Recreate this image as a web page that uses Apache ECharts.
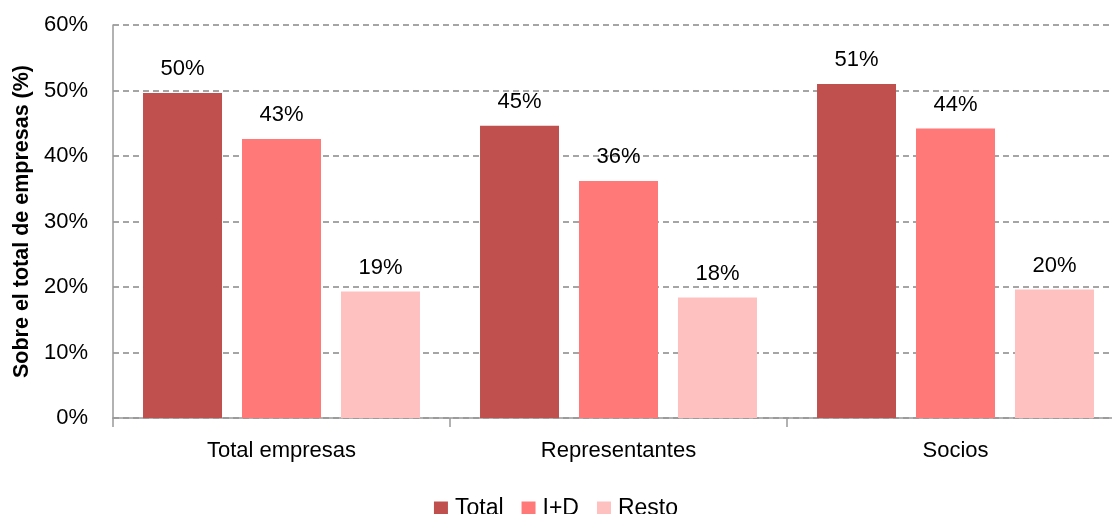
<!DOCTYPE html>
<html>
<head>
<meta charset="utf-8">
<script src="https://cdn.jsdelivr.net/npm/echarts@6/dist/echarts.min.js"></script>
<style>html,body{margin:0;padding:0;background:#fff}#c{width:1112px;height:514px}</style>
</head>
<body>
<div id="c"></div>
<script>
const categories = ['Total empresas', 'Representantes', 'Socios'];
const seriesNames = ['Total', 'I+D', 'Resto'];
const totalValues = [49.6, 44.6, 51.0];
const idValues = [42.6, 36.2, 44.2];
const restoValues = [19.3, 18.4, 19.6];
const yTicks = [0, 10, 20, 30, 40, 50, 60];
const colors = ['#C0504D', '#FF7979', '#FFC0C0'];

const font = '"Liberation Sans", Arial, sans-serif';
const chart = echarts.init(document.getElementById('c'));
const mk = (name, data, color) => ({
  name, type: 'bar', data, barWidth: 79, barGap: '25.3%',
  itemStyle: { color },
  label: { show: true, position: 'top', distance: 13, color: '#000', fontFamily: font, fontSize: 22,
    formatter: p => Math.round(p.value) + '%' }
});
chart.setOption({
  animation: false,
  color: colors,
  grid: { left: 113, top: 25, bottom: 96, right: -12, containLabel: false, outerBoundsMode: 'none' },
  legend: {
    bottom: -11, left: 'center', itemWidth: 14, itemHeight: 14, itemGap: 18,
    icon: 'rect',
    textStyle: { fontFamily: font, fontSize: 23, color: '#000', padding: [0, 0, 0, 2] },
    data: seriesNames
  },
  xAxis: {
    type: 'category', data: categories,
    axisLine: { lineStyle: { color: '#999', width: 1.5 } },
    axisTick: { show: true, length: 9, lineStyle: { color: '#999', width: 1.5 } },
    axisLabel: { fontFamily: font, fontSize: 22, color: '#000', margin: 22 }
  },
  yAxis: {
    type: 'value', min: yTicks[0], max: yTicks[yTicks.length - 1], interval: 10,
    name: 'Sobre el total de empresas (%)', nameLocation: 'middle', nameGap: 79,
    nameTextStyle: { fontFamily: font, fontSize: 21.5, fontWeight: 'bold', color: '#000' },
    axisLine: { show: true, lineStyle: { color: '#999', width: 1.5 } },
    axisTick: { show: false },
    axisLabel: { fontFamily: font, fontSize: 22, color: '#000', margin: 25, formatter: v => v + '%' },
    splitLine: { lineStyle: { color: '#888', type: [6, 4], width: 1.5 } }
  },
  series: [
    mk(seriesNames[0], totalValues, colors[0]),
    mk(seriesNames[1], idValues, colors[1]),
    mk(seriesNames[2], restoValues, colors[2])
  ]
});
</script>
</body>
</html>
